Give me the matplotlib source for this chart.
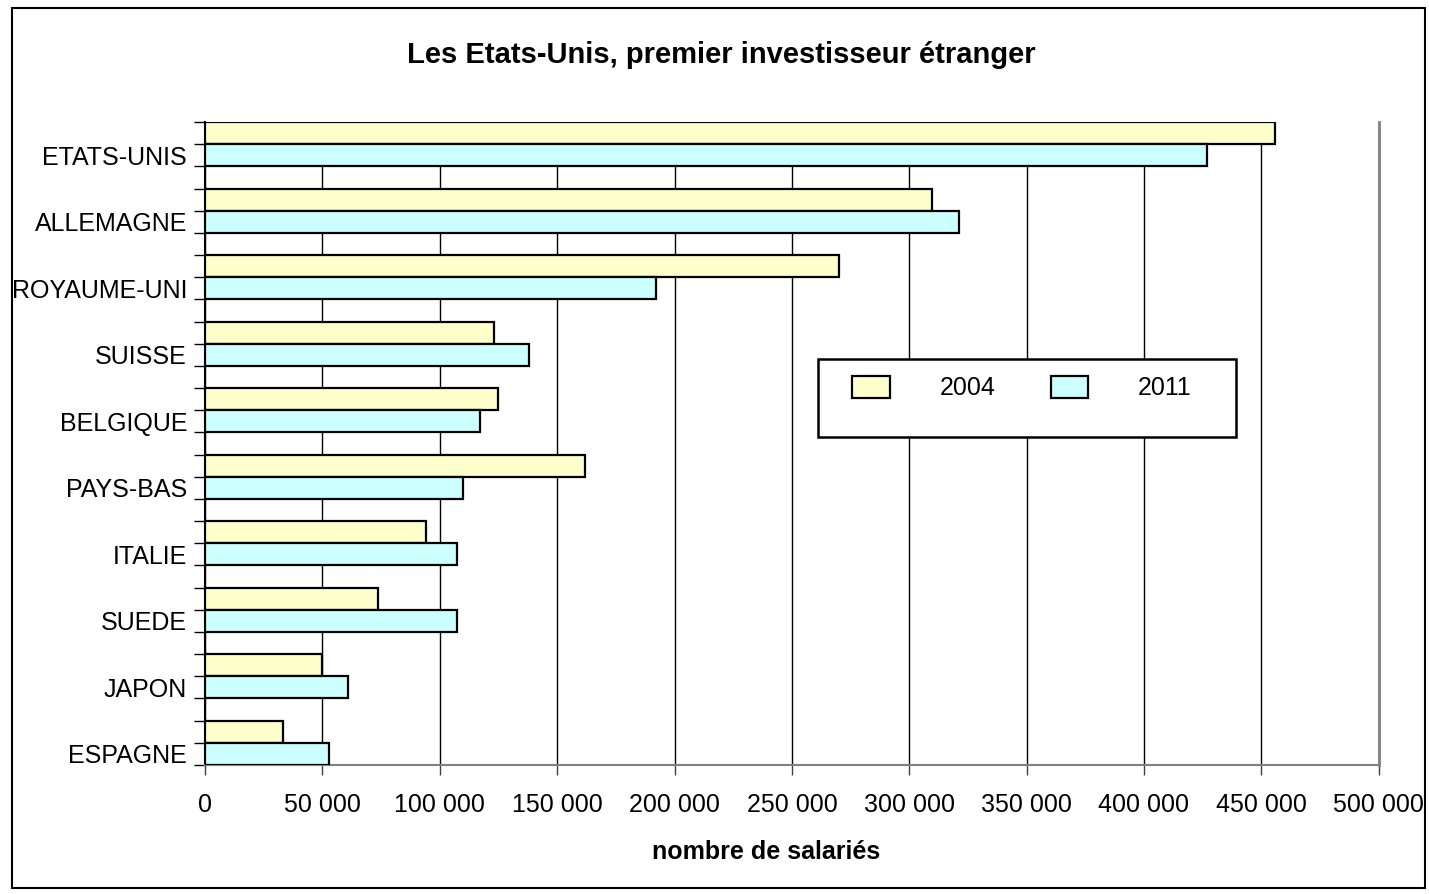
import matplotlib.pyplot as plt
from matplotlib.patches import Rectangle
from matplotlib.ticker import FuncFormatter

plt.rcParams['font.family'] = ['Liberation Sans', 'DejaVu Sans']

# Données (nombre de salariés)
pays = ["ETATS-UNIS", "ALLEMAGNE", "ROYAUME-UNI", "SUISSE", "BELGIQUE",
        "PAYS-BAS", "ITALIE", "SUEDE", "JAPON", "ESPAGNE"]
sal_2004 = [456000, 309500, 270000, 123000, 124700, 162000, 94000, 73600, 49800, 33000]
sal_2011 = [427000, 321300, 192000, 138000, 117000, 109800, 107200, 107200, 61000, 53000]
annees = ["2004", "2011"]
couleurs = ["#FFFFCC", "#CCFFFF"]

fig = plt.figure(figsize=(14.29, 8.94), dpi=100)
ax = fig.add_axes([0.1435, 0.1443, 0.9648 - 0.1435, 0.8635 - 0.1443])

# chaque pays occupe 3 unités : barre 2004, barre 2011, espace
pos = [3 * i for i in range(len(pays))]
b1 = ax.barh([p + 0.5 for p in pos], sal_2004, height=1.0, color=couleurs[0],
             edgecolor="black", linewidth=1.6, label=annees[0], zorder=3)
b2 = ax.barh([p + 1.5 for p in pos], sal_2011, height=1.0, color=couleurs[1],
             edgecolor="black", linewidth=1.6, label=annees[1], zorder=3)

ax.set_ylim(3 * len(pays) - 1, 0)
ax.set_xlim(0, 500000)

# graduations
ax.set_yticks(range(0, 3 * len(pays)))
ax.set_yticklabels([])
ax.set_yticks([p + 1.5 for p in pos], minor=True)
ax.set_yticklabels(pays, minor=True)
ax.tick_params(axis="y", which="major", length=8, width=1, color="black")
ax.tick_params(axis="y", which="minor", length=0, pad=13, labelsize=18)

ax.set_xticks(range(0, 500001, 50000))
ax.xaxis.set_major_formatter(FuncFormatter(lambda v, _: f"{int(v):,}".replace(",", " ")))
ax.tick_params(axis="x", length=7, width=1, color="#404040", pad=13, labelsize=18)

ax.grid(axis="x", color="black", linewidth=1, zorder=0)
ax.spines["top"].set_visible(False)
ax.spines["left"].set_color("black")
ax.spines["left"].set_linewidth(1.5)
ax.spines["bottom"].set_color("#808080")
ax.spines["bottom"].set_linewidth(1.5)
ax.spines["right"].set_color("#808080")
ax.spines["right"].set_linewidth(2)

fig.text(766 / 1429, 1 - 852 / 894, "nombre de salariés", ha="center", va="center",
         fontsize=18, fontweight="bold")
fig.text(721 / 1429, 1 - 55 / 894, "Les Etats-Unis, premier investisseur étranger",
         ha="center", va="center", fontsize=21, fontweight="bold")

# cadre de la légende
ax.add_patch(Rectangle((818 / 1429, 1 - 437 / 894), (1236 - 818) / 1429, (437 - 359) / 894,
                       transform=fig.transFigure, facecolor="white", clip_on=False,
                       edgecolor="black", linewidth=1.8, zorder=5))
leg = ax.legend(handles=[b1, b2], loc="center", bbox_to_anchor=(1022 / 1429, 1 - 388 / 894),
                bbox_transform=fig.transFigure, ncol=2, frameon=False, fontsize=18,
                handlelength=1.5, handleheight=1.0, handletextpad=2.0, columnspacing=2.2)
leg.set_zorder(6)

# cadre du graphique
fig.add_artist(Rectangle((12 / 1429, 1 - 888 / 894), (1425 - 12) / 1429, (888 - 8) / 894,
                         transform=fig.transFigure, fill=False,
                         edgecolor="black", linewidth=1.5))

plt.savefig("out.png", dpi=100)
